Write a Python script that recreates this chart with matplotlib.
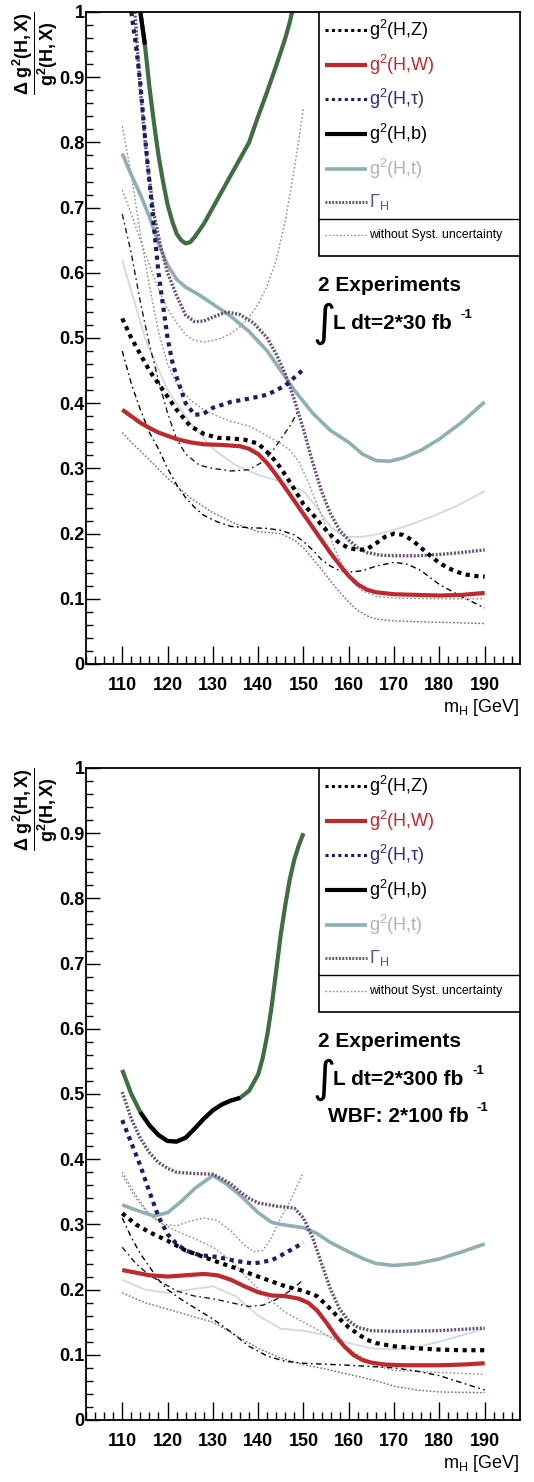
import matplotlib

matplotlib.use("Agg")
import matplotlib.pyplot as plt
from matplotlib.patches import Rectangle
from matplotlib.ticker import MultipleLocator

plt.rcParams["font.family"] = ["Liberation Sans", "DejaVu Sans"]
plt.rcParams["mathtext.fontset"] = "custom"
plt.rcParams["mathtext.rm"] = "Liberation Sans"
plt.rcParams["mathtext.it"] = "Liberation Sans:italic"
plt.rcParams["mathtext.bf"] = "Liberation Sans:bold"

# ---------------------------------------------------------------------------
# 2 experiments, 2*30 fb^-1 : relative coupling uncertainties vs m_H
# ---------------------------------------------------------------------------
top_hz_m = [110, 112, 114, 116, 118, 120, 122, 125, 128, 131, 134, 137, 140, 142, 144, 146, 148,
            150, 152, 154, 156, 158, 160, 162, 164, 166, 168, 170, 172, 174, 176, 178, 180, 182,
            184, 186, 188, 190]
top_hz_v = [0.53, 0.50, 0.475, 0.45, 0.43, 0.41, 0.39, 0.365, 0.353, 0.347, 0.346, 0.344, 0.338,
            0.325, 0.31, 0.29, 0.268, 0.245, 0.23, 0.213, 0.198, 0.185, 0.178, 0.175, 0.176, 0.185,
            0.195, 0.2, 0.198, 0.19, 0.178, 0.166, 0.155, 0.147, 0.141, 0.137, 0.135, 0.134]

top_hw_m = [110, 112, 114, 116, 118, 120, 122, 125, 128, 132, 136, 138, 140, 142, 144, 146, 148,
            150, 152, 154, 156, 158, 160, 162, 164, 166, 170, 175, 180, 185, 190]
top_hw_v = [0.39, 0.38, 0.37, 0.362, 0.355, 0.35, 0.345, 0.34, 0.337, 0.336, 0.334, 0.33, 0.322,
            0.308, 0.29, 0.27, 0.25, 0.23, 0.21, 0.19, 0.17, 0.152, 0.135, 0.122, 0.114, 0.11,
            0.107, 0.106, 0.105, 0.106, 0.109]

top_htau_m = [112, 113, 114, 115, 116, 117, 118, 119, 120, 121, 122, 124, 126, 128, 130, 134, 138,
              142, 146, 150]
top_htau_v = [1.0, 0.95, 0.89, 0.81, 0.74, 0.67, 0.6, 0.55, 0.5, 0.465, 0.44, 0.4, 0.382, 0.384,
              0.393, 0.402, 0.407, 0.413, 0.427, 0.452]

top_hb_m = [114, 115, 116, 117, 118, 119, 120, 121, 122, 123, 124, 125, 126, 128, 130, 132, 134,
            136, 138, 140, 142, 144, 146, 147, 147.5]
top_hb_v = [1.0, 0.95, 0.885, 0.83, 0.78, 0.74, 0.705, 0.68, 0.66, 0.65, 0.645, 0.647, 0.655,
            0.675, 0.7, 0.725, 0.75, 0.775, 0.8, 0.84, 0.878, 0.918, 0.96, 0.985, 1.0]

top_ht_m = [110, 112, 114, 116, 118, 120, 122, 124, 127, 130, 134, 138, 142, 145, 148, 152, 156,
            160, 163, 166, 169, 172, 176, 180, 185, 190]
top_ht_v = [0.783, 0.75, 0.72, 0.686, 0.645, 0.612, 0.59, 0.578, 0.566, 0.552, 0.533, 0.51, 0.48,
            0.45, 0.42, 0.385, 0.358, 0.34, 0.322, 0.312, 0.311, 0.316, 0.328, 0.345, 0.371, 0.402]

top_gamma_m = [112.8, 114, 115.5, 117, 118.5, 120, 122, 124, 126, 128, 130, 133, 136, 139, 142,
               144, 146, 148, 150, 152, 154, 156, 158, 160, 162, 164, 167, 170, 175, 180, 185, 190]
top_gamma_v = [1.0, 0.88, 0.77, 0.69, 0.64, 0.6, 0.565, 0.535, 0.525, 0.526, 0.532, 0.54, 0.536,
               0.523, 0.5, 0.475, 0.445, 0.405, 0.36, 0.31, 0.265, 0.23, 0.205, 0.19, 0.178,
               0.171, 0.167, 0.166, 0.166, 0.168, 0.171, 0.175]

# without systematic uncertainty
top_b_nosys_m = [110, 112, 114, 116, 118, 120, 122, 124, 126, 128, 130, 132, 134, 136, 138, 140,
                 142, 144, 146, 148, 150]
top_b_nosys_v = [0.727, 0.69, 0.65, 0.612, 0.575, 0.545, 0.523, 0.505, 0.496, 0.494, 0.496, 0.5,
                 0.507, 0.517, 0.532, 0.552, 0.58, 0.62, 0.68, 0.76, 0.852]

top_gamma_nosys_m = [110, 112, 114, 116, 118, 120, 122, 125, 128, 131, 134, 138, 142, 145, 147,
                     149, 151, 153, 155, 157, 159, 161, 163, 166, 170, 180, 190]
top_gamma_nosys_v = [0.825, 0.75, 0.66, 0.58, 0.51, 0.46, 0.43, 0.405, 0.39, 0.38, 0.372, 0.365,
                     0.35, 0.338, 0.328, 0.31, 0.28, 0.245, 0.21, 0.175, 0.145, 0.125, 0.112,
                     0.104, 0.101, 0.1, 0.1]

top_tau_nosys_m = [110, 112, 114, 116, 118, 120, 122, 124, 127, 130, 134, 138, 141, 143, 145, 147,
                   149]
top_tau_nosys_v = [0.69, 0.63, 0.555, 0.49, 0.435, 0.385, 0.345, 0.322, 0.305, 0.3, 0.296, 0.298,
                   0.31, 0.325, 0.345, 0.365, 0.39]

top_z_nosys_m = [110, 112, 114, 116, 118, 120, 122, 124, 126, 128, 131, 134, 138, 142, 145, 148,
                 150, 152, 154, 156, 158, 160, 163, 166, 170, 173, 176, 180, 185, 190]
top_z_nosys_v = [0.48, 0.43, 0.39, 0.355, 0.33, 0.3, 0.275, 0.255, 0.24, 0.228, 0.218, 0.211,
                 0.209, 0.208, 0.205, 0.198, 0.188, 0.175, 0.16, 0.15, 0.143, 0.141, 0.143, 0.15,
                 0.156, 0.153, 0.143, 0.122, 0.103, 0.086]

top_w_nosys_m = [110, 112, 115, 120, 125, 130, 135, 140, 145, 148, 150, 152, 154, 156, 158, 160,
                 162, 164, 166, 170, 180, 190]
top_w_nosys_v = [0.355, 0.34, 0.32, 0.285, 0.255, 0.232, 0.215, 0.203, 0.2, 0.19, 0.178, 0.162,
                 0.145, 0.127, 0.11, 0.095, 0.082, 0.074, 0.069, 0.066, 0.064, 0.062]

top_t_nosys_m = [110, 115, 120, 125, 130, 135, 140, 145, 150, 153, 156, 159, 163, 167, 172, 178,
                 184, 190]
top_t_nosys_v = [0.62, 0.5, 0.42, 0.37, 0.33, 0.305, 0.29, 0.28, 0.265, 0.24, 0.21, 0.195, 0.195,
                 0.2, 0.21, 0.225, 0.243, 0.265]

# ---------------------------------------------------------------------------
# 2 experiments, 2*300 fb^-1 (WBF 2*100 fb^-1)
# ---------------------------------------------------------------------------
bot_hz_m = [110, 113, 116, 120, 124, 128, 132, 135, 138, 142, 146, 150, 153, 156, 158, 160, 162,
            164, 166, 170, 175, 180, 185, 190]
bot_hz_v = [0.317, 0.3, 0.288, 0.275, 0.26, 0.25, 0.24, 0.233, 0.225, 0.215, 0.205, 0.198, 0.19,
            0.17, 0.155, 0.142, 0.132, 0.123, 0.118, 0.113, 0.11, 0.108, 0.107, 0.107]

bot_hw_m = [110, 113, 116, 120, 124, 128, 131, 134, 137, 140, 143, 146, 149, 151, 153, 155, 157,
            159, 161, 163, 165, 168, 172, 180, 185, 190]
bot_hw_v = [0.23, 0.226, 0.222, 0.22, 0.222, 0.224, 0.222, 0.215, 0.205, 0.196, 0.191, 0.19,
            0.186, 0.18, 0.168, 0.15, 0.13, 0.113, 0.1, 0.092, 0.088, 0.085, 0.084, 0.084, 0.085,
            0.087]

bot_htau_m = [110, 112, 114, 116, 118, 120, 122, 124, 127, 131, 135, 139, 143, 146, 149, 150]
bot_htau_v = [0.46, 0.425, 0.39, 0.35, 0.312, 0.285, 0.27, 0.26, 0.253, 0.25, 0.244, 0.24, 0.245,
              0.256, 0.268, 0.272]

bot_hb_m = [110, 112, 114, 116, 118, 120, 122, 124, 126, 128, 130, 132, 134, 136, 138, 140, 141,
            142, 143, 144, 145, 146, 147, 148, 149, 150]
bot_hb_v = [0.537, 0.5, 0.472, 0.452, 0.437, 0.428, 0.427, 0.433, 0.447, 0.462, 0.475, 0.484,
            0.49, 0.494, 0.505, 0.53, 0.555, 0.59, 0.635, 0.69, 0.745, 0.79, 0.83, 0.86, 0.882,
            0.9]

bot_ht_m = [110, 113, 117, 120, 123, 126, 130, 133, 136, 140, 143, 145, 148, 150, 153, 156, 160,
            163, 166, 170, 175, 180, 185, 190]
bot_ht_v = [0.33, 0.322, 0.313, 0.318, 0.335, 0.355, 0.375, 0.362, 0.345, 0.318, 0.303, 0.3,
            0.297, 0.295, 0.286, 0.272, 0.258, 0.248, 0.24, 0.237, 0.24, 0.247, 0.258, 0.27]

bot_gamma_m = [110, 112, 114, 116, 118, 120, 122, 126, 130, 132, 134, 136, 138, 140, 144, 148,
               150, 152, 154, 156, 158, 160, 162, 165, 170, 180, 190]
bot_gamma_v = [0.503, 0.462, 0.432, 0.41, 0.395, 0.386, 0.38, 0.378, 0.377, 0.37, 0.362, 0.35,
               0.34, 0.333, 0.328, 0.325, 0.31, 0.28, 0.24, 0.2, 0.17, 0.152, 0.142, 0.137,
               0.136, 0.137, 0.141]

bot_b_nosys_m = [110, 113, 116, 119, 122, 125, 128, 131, 134, 137, 139, 141, 143, 145, 147, 149,
                 150]
bot_b_nosys_v = [0.38, 0.345, 0.315, 0.3, 0.298, 0.305, 0.31, 0.306, 0.29, 0.268, 0.258, 0.26,
                 0.28, 0.31, 0.335, 0.365, 0.38]

bot_gamma_nosys_m = [110, 113, 116, 119, 122, 126, 130, 134, 138, 142, 146, 150, 154, 158, 162,
                     166, 170, 180, 190]
bot_gamma_nosys_v = [0.375, 0.34, 0.315, 0.3, 0.29, 0.278, 0.265, 0.245, 0.215, 0.188, 0.165,
                     0.15, 0.135, 0.118, 0.1, 0.083, 0.076, 0.073, 0.07]

bot_tau_nosys_m = [110, 113, 116, 119, 122, 126, 130, 134, 138, 141, 144, 147, 150]
bot_tau_nosys_v = [0.265, 0.24, 0.222, 0.21, 0.198, 0.19, 0.186, 0.18, 0.174, 0.176, 0.185,
                   0.198, 0.215]

bot_z_nosys_m = [110, 112, 114, 116, 118, 120, 123, 126, 130, 134, 138, 142, 146, 150, 160, 170,
                 175, 180, 185, 190]
bot_z_nosys_v = [0.31, 0.28, 0.255, 0.235, 0.215, 0.2, 0.185, 0.172, 0.155, 0.135, 0.113, 0.098,
                 0.09, 0.087, 0.084, 0.08, 0.075, 0.068, 0.057, 0.046]

bot_w_nosys_m = [110, 115, 120, 125, 130, 135, 140, 145, 150, 155, 160, 165, 170, 175, 180, 190]
bot_w_nosys_v = [0.195, 0.18, 0.17, 0.16, 0.15, 0.13, 0.11, 0.095, 0.085, 0.078, 0.07, 0.062,
                 0.052, 0.046, 0.043, 0.042]

bot_t_nosys_m = [110, 115, 120, 125, 130, 135, 140, 145, 150, 155, 160, 165, 170, 175, 180, 185,
                 190]
bot_t_nosys_v = [0.215, 0.2, 0.195, 0.2, 0.205, 0.19, 0.16, 0.14, 0.137, 0.13, 0.118, 0.11, 0.108,
                 0.112, 0.12, 0.13, 0.14]

# mass window in which the g2(H,b) curve is drawn black on top of the green
HB_BLACK_TOP = (113.0, 115.6)
HB_BLACK_BOT = (112.6, 137.0)

XTICKS = [110, 120, 130, 140, 150, 160, 170, 180, 190]

STYLE = {
    "t_nosys": dict(color="#d2d9dc", lw=1.3),
    "b_nosys": dict(color="#8c8c8c", lw=1.0, dashes=(1.2, 1.6)),
    "gamma_nosys": dict(color="#8c8c8c", lw=1.0, dashes=(1.2, 1.6)),
    "w_nosys": dict(color="#8a5a8c", lw=1.0, dashes=(1.2, 1.4)),
    "z_nosys": dict(color="black", lw=1.0, dashes=(4, 2.5, 1.2, 2.5)),
    "tau_nosys": dict(color="#181838", lw=1.0, dashes=(4, 2.5, 1.2, 2.5)),
    "ht": dict(color="#8fb0b2", lw=2.6),
    "gamma": dict(color="#6a4d78", lw=2.4, dashes=(0.6, 0.5)),
    "hb": dict(color="#3f6e40", lw=3.0),
    "htau": dict(color="#1c1c6a", lw=3.0, dashes=(1.0, 1.1)),
    "hz": dict(color="black", lw=3.0, dashes=(1.0, 1.1)),
    "hw": dict(color="#c0282d", lw=3.0),
}

LEGEND_ROWS = [
    ("hz", r"g$^{2}$(H,Z)", "black"),
    ("hw", r"g$^{2}$(H,W)", "#c0282d"),
    ("htau", "g$^{2}$(H,\u03c4)", "#2a2a8c"),
    ("hb_leg", r"g$^{2}$(H,b)", "black"),
    ("ht", r"g$^{2}$(H,t)", "#a9b5b9"),
    ("gamma", r"$\Gamma_{\mathregular{H}}$", "#6a4d88"),
]


def plot_curve(ax, m, v, key, **extra):
    st = dict(STYLE[key])
    dashes = st.pop("dashes", None)
    (line,) = ax.plot(m, v, color=st["color"], lw=st["lw"], solid_capstyle="butt", **extra)
    if dashes is not None:
        line.set_dashes(dashes)
        line.set_dash_capstyle("butt")
    return line


def draw_legend(ax):
    x0, x1 = 0.537, 1.0
    y_bot, y_sep = 0.626, 0.683
    ax.add_patch(Rectangle((x0, y_bot), x1 - x0, 1.0 - y_bot, transform=ax.transAxes,
                           facecolor="white", edgecolor="black", lw=1.2, zorder=10))
    ax.plot([x0, x1], [y_sep, y_sep], color="black", lw=1.0, transform=ax.transAxes, zorder=11)

    rows_y = [0.972, 0.919, 0.867, 0.813, 0.759, 0.708]
    for (key, label, tcolor), yy in zip(LEGEND_ROWS, rows_y):
        if key == "hb_leg":
            st = dict(color="black", lw=3.0)
        else:
            st = dict(STYLE[key])
        dashes = st.pop("dashes", None)
        lw = st["lw"] if dashes is None else min(st["lw"], 2.2)
        (ln,) = ax.plot([0.551, 0.647], [yy, yy], color=st["color"], lw=lw,
                        transform=ax.transAxes, zorder=12, solid_capstyle="butt")
        if dashes is not None:
            ln.set_dashes(dashes)
        ax.text(0.652, yy, label, color=tcolor, fontsize=13, ha="left", va="center",
                transform=ax.transAxes, zorder=12)

    (ln,) = ax.plot([0.551, 0.647], [0.658, 0.658], color="#9a8aa6", lw=1.0,
                    transform=ax.transAxes, zorder=12)
    ln.set_dashes((1.2, 1.4))
    ax.text(0.652, 0.658, "without Syst. uncertainty", fontsize=8.8, ha="left", va="center",
            transform=ax.transAxes, zorder=12)


def draw_lumi(ax, lumi, wbf=None):
    ax.text(0.535, 0.58, "2 Experiments", fontsize=15, fontweight="bold", ha="left",
            va="center", transform=ax.transAxes)
    ax.text(0.522, 0.522, "\u222b", fontsize=32, family="DejaVu Sans", ha="left",
            va="center", transform=ax.transAxes)
    t = ax.text(0.57, 0.522, f"L dt={lumi} fb", fontsize=15, fontweight="bold", ha="left",
                va="center", transform=ax.transAxes)
    ax.annotate("-1", xy=(1.0, 0.95), xycoords=t, xytext=(6, 0), textcoords="offset points",
                fontsize=9.5, fontweight="bold", ha="left", va="center")
    if wbf is not None:
        w = ax.text(0.557, 0.465, f"WBF: {wbf} fb", fontsize=15, fontweight="bold",
                    ha="left", va="center", transform=ax.transAxes)
        ax.annotate("-1", xy=(1.0, 0.95), xycoords=w, xytext=(6, 0),
                    textcoords="offset points", fontsize=9.5, fontweight="bold", ha="left",
                    va="center")


def style_axes(ax):
    ax.set_xlim(102, 197.8)
    ax.set_ylim(0, 1)
    ax.set_xticks(XTICKS)
    ax.set_xticklabels([str(x) for x in XTICKS], fontsize=13, fontweight="bold")
    ax.xaxis.set_minor_locator(MultipleLocator(2))
    yt = [i / 10 for i in range(11)]
    ax.set_yticks(yt)
    ax.set_yticklabels([f"{y:g}" for y in yt], fontsize=13, fontweight="bold")
    ax.yaxis.set_minor_locator(MultipleLocator(0.02))
    ax.tick_params(axis="both", which="both", direction="in", width=1.0, color="black")
    ax.tick_params(axis="x", which="major", length=13, pad=9)
    ax.tick_params(axis="x", which="minor", length=5.5)
    ax.tick_params(axis="y", which="major", length=10, pad=1)
    ax.tick_params(axis="y", which="minor", length=5)
    for sp in ax.spines.values():
        sp.set_linewidth(1.3)
    ax.text(1.0, -0.067, r"m$_{\mathregular{H}}$ [GeV]", fontsize=13, ha="right",
            va="center", transform=ax.transAxes)
    ax.text(-0.118, 0.937, r"$\mathbf{\dfrac{\Delta\ g^{2}(H,X)}{g^{2}(H,X)}}$", fontsize=13,
            rotation=90, ha="center", va="center", transform=ax.transAxes)


def draw_hb(ax, m, v, window):
    plot_curve(ax, m, v, "hb")
    lo, hi = window
    mb = [x for x in m if lo <= x <= hi]
    vb = [y for x, y in zip(m, v) if lo <= x <= hi]
    ax.plot(mb, vb, color="black", lw=3.0, solid_capstyle="butt")


fig = plt.figure(figsize=(5.34, 14.82), dpi=100)
ax_top = fig.add_axes([86 / 534, (1482 - 664) / 1482, 434 / 534, 652 / 1482])
ax_bot = fig.add_axes([86 / 534, (1482 - 1420) / 1482, 434 / 534, 652 / 1482])

# top: 2*30 fb^-1
plot_curve(ax_top, top_t_nosys_m, top_t_nosys_v, "t_nosys")
plot_curve(ax_top, top_b_nosys_m, top_b_nosys_v, "b_nosys")
plot_curve(ax_top, top_gamma_nosys_m, top_gamma_nosys_v, "gamma_nosys")
plot_curve(ax_top, top_w_nosys_m, top_w_nosys_v, "w_nosys")
plot_curve(ax_top, top_z_nosys_m, top_z_nosys_v, "z_nosys")
plot_curve(ax_top, top_tau_nosys_m, top_tau_nosys_v, "tau_nosys")
plot_curve(ax_top, top_ht_m, top_ht_v, "ht")
plot_curve(ax_top, top_gamma_m, top_gamma_v, "gamma")
draw_hb(ax_top, top_hb_m, top_hb_v, HB_BLACK_TOP)
plot_curve(ax_top, top_htau_m, top_htau_v, "htau")
plot_curve(ax_top, top_hz_m, top_hz_v, "hz")
plot_curve(ax_top, top_hw_m, top_hw_v, "hw")
style_axes(ax_top)
draw_legend(ax_top)
draw_lumi(ax_top, "2*30")

# bottom: 2*300 fb^-1
plot_curve(ax_bot, bot_t_nosys_m, bot_t_nosys_v, "t_nosys")
plot_curve(ax_bot, bot_b_nosys_m, bot_b_nosys_v, "b_nosys")
plot_curve(ax_bot, bot_gamma_nosys_m, bot_gamma_nosys_v, "gamma_nosys")
plot_curve(ax_bot, bot_w_nosys_m, bot_w_nosys_v, "w_nosys")
plot_curve(ax_bot, bot_z_nosys_m, bot_z_nosys_v, "z_nosys")
plot_curve(ax_bot, bot_tau_nosys_m, bot_tau_nosys_v, "tau_nosys")
plot_curve(ax_bot, bot_ht_m, bot_ht_v, "ht")
plot_curve(ax_bot, bot_gamma_m, bot_gamma_v, "gamma")
draw_hb(ax_bot, bot_hb_m, bot_hb_v, HB_BLACK_BOT)
plot_curve(ax_bot, bot_htau_m, bot_htau_v, "htau")
plot_curve(ax_bot, bot_hz_m, bot_hz_v, "hz")
plot_curve(ax_bot, bot_hw_m, bot_hw_v, "hw")
style_axes(ax_bot)
draw_legend(ax_bot)
draw_lumi(ax_bot, "2*300", wbf="2*100")

fig.savefig("out.png", dpi=100, facecolor="white")
plt.close(fig)
